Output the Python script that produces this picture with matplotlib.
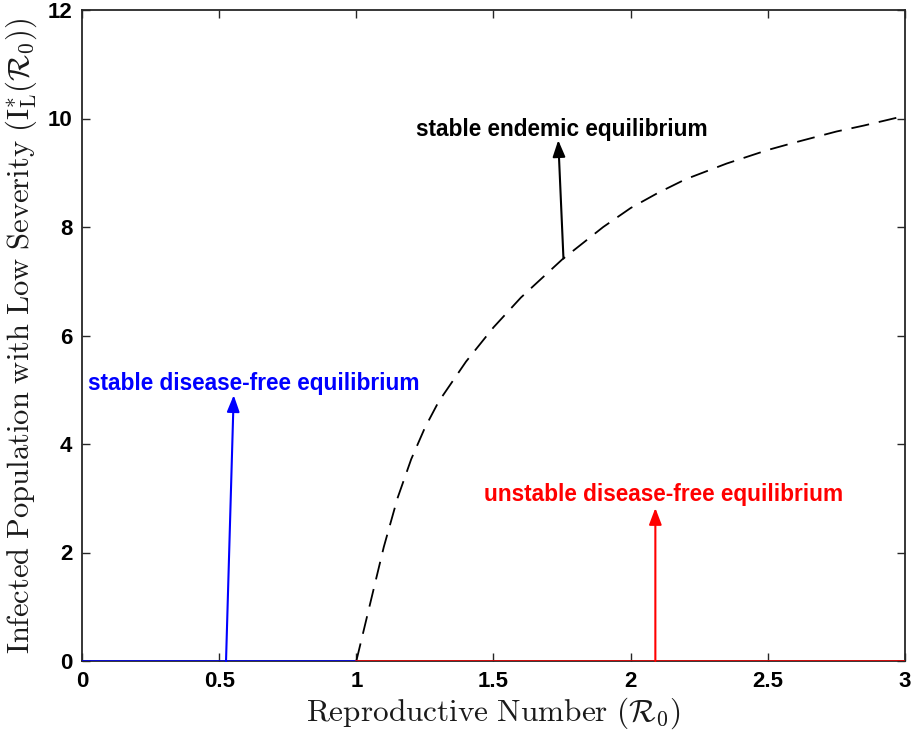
import matplotlib
matplotlib.use("Agg")
import matplotlib.pyplot as plt

plt.rcParams['mathtext.fontset'] = 'cm'

# equilibrium curves
r_dfe_stable = [0, 1]
r_dfe_unstable = [1, 3]
r_endemic = [1.0, 1.05, 1.1, 1.15, 1.2, 1.25, 1.3, 1.4, 1.5, 1.6, 1.75, 1.9, 2.0, 2.1,
             2.2, 2.35, 2.5, 2.6, 2.75, 2.85, 3.0]
i_endemic = [0, 1.05, 2.1, 3.0, 3.72, 4.3, 4.78, 5.52, 6.15, 6.7, 7.4, 8.0, 8.35, 8.63,
             8.88, 9.17, 9.42, 9.56, 9.76, 9.87, 10.05]

xticks = [0, 0.5, 1, 1.5, 2, 2.5, 3]
xticklabels = ['0', '0.5', '1', '1.5', '2', '2.5', '3']
yticks = [0, 2, 4, 6, 8, 10, 12]

fig = plt.figure(figsize=(9.12, 7.34), dpi=100)
ax = fig.add_axes([82/912, 73/734, 823/912, 651/734])

ax.plot(r_dfe_stable, [0, 0], color='blue', lw=1.8, zorder=3)
ax.plot(r_dfe_unstable, [0, 0], color='red', lw=1.8, zorder=3)
ax.plot(r_endemic, i_endemic, color='black', lw=1.3, dashes=(10, 5.5))

ax.set_xlim(0, 3)
ax.set_ylim(0, 12)
ax.set_xticks(xticks)
ax.set_xticklabels(xticklabels)
ax.set_yticks(yticks)
ax.tick_params(direction='in', top=True, right=True, length=6, width=1,
               colors='0.15', labelsize=16, pad=7)
for lab in ax.get_xticklabels() + ax.get_yticklabels():
    lab.set_fontweight('bold')
    lab.set_fontfamily('Liberation Sans')
    lab.set_color('black')
for s in ax.spines.values():
    s.set_linewidth(1.3)
    s.set_color('0.15')

ax.set_xlabel(r'$\mathrm{Reproductive\ Number}\ (\mathcal{R}_0)$', fontsize=22.5, color='0.1', labelpad=3)
ax.set_ylabel(r'$\mathrm{Infected\ Population\ with\ Low\ Severity}\ (\mathrm{I}^{*}_{\mathrm{L}}(\mathcal{R}_0))$',
              fontsize=22, color='0.1', labelpad=6)

# annotations
notes = [
    ('stable endemic equilibrium', 'black', (1.75, 9.79), (1.755, 7.42), (1.736, 9.6)),
    ('stable disease-free equilibrium', 'blue', (0.627, 5.12), (0.525, 0.0), (0.553, 4.9)),
    ('unstable disease-free equilibrium', 'red', (2.12, 3.06), (2.09, 0.0), (2.09, 2.82)),
]
for txt, col, pos, tail, head in notes:
    ax.annotate('', xy=head, xytext=tail,
                arrowprops=dict(arrowstyle='-|>,head_length=1.0,head_width=0.38',
                                color=col, lw=1.5, shrinkA=0, shrinkB=0))
    ax.text(pos[0], pos[1], txt, color=col, fontsize=16.3, fontweight='bold',
            family='Liberation Sans', ha='center', va='center')

fig.savefig('out.png', dpi=100)
